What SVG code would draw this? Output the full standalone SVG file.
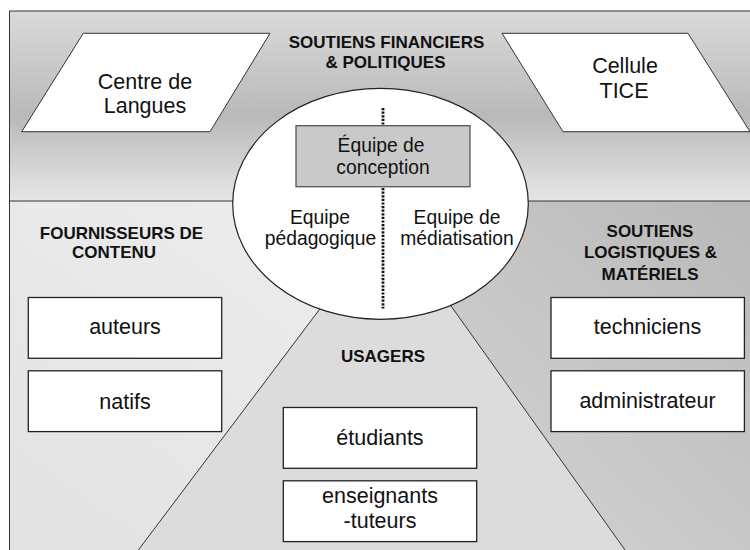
<svg xmlns="http://www.w3.org/2000/svg" width="750" height="550" viewBox="0 0 750 550">
  <defs>
    <linearGradient id="gTop" x1="0" y1="0" x2="0" y2="1">
      <stop offset="0" stop-color="#dadada"/>
      <stop offset="0.55" stop-color="#b9b9b9"/>
      <stop offset="1" stop-color="#e6e6e6"/>
    </linearGradient>
    <linearGradient id="gLeft" x1="1" y1="0" x2="0" y2="1">
      <stop offset="0" stop-color="#f6f6f6"/>
      <stop offset="1" stop-color="#e2e2e2"/>
    </linearGradient>
    <linearGradient id="gRight" x1="1" y1="0" x2="0" y2="1">
      <stop offset="0" stop-color="#b8b8b8"/>
      <stop offset="1" stop-color="#d8d8d8"/>
    </linearGradient>
    <style>
      .edge { fill: none; stroke: #333; stroke-width: 1; }
      .para { fill: #ffffff; stroke: #333; stroke-width: 1; }
      .box { fill: #ffffff; stroke: #222; stroke-width: 1.3; }
      .ell { fill: #ffffff; stroke: #222; stroke-width: 1.2; }
      .core { fill: #c9c9c9; stroke: #555; stroke-width: 1.3; }
      .lbl { font-family: "Liberation Sans", Arial, sans-serif; font-size: 21.5px; fill: #111; text-anchor: middle; }
      .mid { font-family: "Liberation Sans", Arial, sans-serif; font-size: 19.3px; fill: #111; text-anchor: middle; }
      .ttl { font-family: "Liberation Sans", Arial, sans-serif; font-size: 17px; font-weight: bold; fill: #111; text-anchor: middle; }
      .dots { fill: none; stroke: #111; stroke-width: 2.8; stroke-dasharray: 2.2 1.4; }
    </style>
  </defs>

  <rect x="0" y="0" width="750" height="550" fill="#ffffff"/>

  <g id="regions">
    <rect x="9.5" y="11" width="760" height="560" fill="url(#gLeft)"/>
    <rect x="9.5" y="11" width="760" height="190" fill="url(#gTop)"/>
    <polygon points="376,201 770,201 770,570 639,570" fill="url(#gRight)"/>
    <polygon points="388.3,218 123.3,570 639.3,570" fill="#dcdcdc"/>
    <rect x="9.5" y="11" width="760" height="560" class="edge"/>
    <line x1="9.5" y1="201" x2="770" y2="201" class="edge"/>
    <line x1="388.3" y1="218" x2="123.3" y2="570" class="edge"/>
    <line x1="388.3" y1="218" x2="639.3" y2="570" class="edge"/>
  </g>

  <g id="centre-langues">
    <polygon points="83.3,33.3 270,33.3 210,131.7 21.7,131.7" class="para"/>
    <text class="lbl" x="145" y="89.2">Centre de</text>
    <text class="lbl" x="145" y="112.7">Langues</text>
  </g>

  <g id="cellule-tice">
    <polygon points="502,33.3 688,33.3 750,131.7 563,131.7" class="para"/>
    <text class="lbl" x="625" y="72.7">Cellule</text>
    <text class="lbl" x="624" y="98.3">TICE</text>
  </g>

  <g id="titre-soutiens-financiers">
    <text class="ttl" x="386.5" y="48.3">SOUTIENS FINANCIERS</text>
    <text class="ttl" x="385.5" y="68.3">&amp; POLITIQUES</text>
  </g>

  <g id="titre-fournisseurs">
    <text class="ttl" x="121.5" y="239.3">FOURNISSEURS DE</text>
    <text class="ttl" x="114" y="258.3">CONTENU</text>
  </g>

  <g id="titre-soutiens-logistiques">
    <text class="ttl" x="650" y="237.3">SOUTIENS</text>
    <text class="ttl" x="650.5" y="258.3">LOGISTIQUES &amp;</text>
    <text class="ttl" x="650" y="280.3">MATÉRIELS</text>
  </g>

  <g id="titre-usagers">
    <text class="ttl" x="383" y="362.3">USAGERS</text>
  </g>

  <g id="equipes">
    <ellipse cx="380.5" cy="203.8" rx="147.8" ry="115.5" class="ell"/>
    <text class="mid" x="320" y="223.5">Equipe</text>
    <text class="mid" x="320.5" y="244.5">pédagogique</text>
    <text class="mid" x="457" y="223.5">Equipe de</text>
    <text class="mid" x="457" y="244.5">médiatisation</text>
  </g>

  <g id="connectors">
    <line x1="383" y1="108" x2="383" y2="125.7" class="dots"/>
    <line x1="383" y1="188" x2="383" y2="308.5" class="dots"/>
  </g>

  <g id="equipe-conception">
    <rect x="296" y="125.7" width="174" height="61" class="core"/>
    <text class="mid" x="381" y="151.7">Équipe de</text>
    <text class="mid" x="383" y="173.5">conception</text>
  </g>

  <g id="auteurs">
    <rect x="28.3" y="297.5" width="193.4" height="60.8" class="box"/>
    <text class="lbl" x="125" y="334.3">auteurs</text>
  </g>
  <g id="natifs">
    <rect x="28.3" y="370.8" width="193.4" height="60.8" class="box"/>
    <text class="lbl" x="125" y="409">natifs</text>
  </g>
  <g id="etudiants">
    <rect x="283.3" y="407.5" width="193.4" height="60.8" class="box"/>
    <text class="lbl" x="380" y="445">étudiants</text>
  </g>
  <g id="enseignants-tuteurs">
    <rect x="283.3" y="480.8" width="193.4" height="60.8" class="box"/>
    <text class="lbl" x="380" y="502.7">enseignants</text>
    <text class="lbl" x="380" y="528.3">-tuteurs</text>
  </g>
  <g id="techniciens">
    <rect x="551" y="297.5" width="193.4" height="60.8" class="box"/>
    <text class="lbl" x="647.5" y="333.5">techniciens</text>
  </g>
  <g id="administrateur">
    <rect x="551" y="370.8" width="193.4" height="60.8" class="box"/>
    <text class="lbl" x="647.5" y="407.7">administrateur</text>
  </g>
</svg>
